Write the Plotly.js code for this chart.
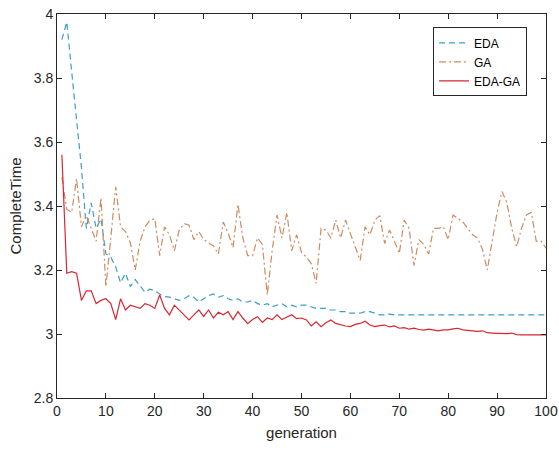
<!DOCTYPE html>
<html>
<head>
<meta charset="utf-8">
<script src="https://cdn.plot.ly/plotly-3.0.1.min.js"></script>
<style>html,body{margin:0;padding:0;background:#fff;}#chart{width:559px;height:450px;}</style>
</head>
<body>
<div id="chart"></div>
<script>
const generations = Array.from({length: 100}, (_, i) => i + 1);

const edaValues = [
  3.92, 3.975, 3.82, 3.67, 3.52, 3.33, 3.41, 3.33, 3.36, 3.25,
  3.24, 3.21, 3.16, 3.19, 3.148, 3.17, 3.15, 3.13, 3.14, 3.135,
  3.125, 3.117, 3.115, 3.11, 3.105, 3.11, 3.12, 3.115, 3.10, 3.11,
  3.12, 3.125, 3.115, 3.12, 3.11, 3.105, 3.11, 3.10, 3.10, 3.105,
  3.095, 3.09, 3.095, 3.085, 3.09, 3.095, 3.085, 3.09, 3.085, 3.09,
  3.09, 3.085, 3.08, 3.08, 3.08, 3.075, 3.075, 3.07, 3.07, 3.065,
  3.065, 3.065, 3.07, 3.07, 3.065, 3.06, 3.06, 3.062, 3.06, 3.06,
  3.06, 3.06, 3.06, 3.06, 3.06, 3.06, 3.06, 3.06, 3.06, 3.06,
  3.06, 3.06, 3.06, 3.06, 3.06, 3.06, 3.06, 3.06, 3.06, 3.06,
  3.06, 3.06, 3.06, 3.06, 3.06, 3.06, 3.06, 3.06, 3.06, 3.06
];

const gaValues = [
  3.49, 3.39, 3.38, 3.486, 3.335, 3.37, 3.33, 3.29, 3.425, 3.148,
  3.30, 3.46, 3.335, 3.32, 3.285, 3.20, 3.29, 3.335, 3.355, 3.36,
  3.245, 3.335, 3.31, 3.26, 3.325, 3.345, 3.34, 3.295, 3.32, 3.295,
  3.285, 3.275, 3.25, 3.35, 3.315, 3.27, 3.405, 3.30, 3.245, 3.245,
  3.30, 3.28, 3.122, 3.26, 3.372, 3.30, 3.38, 3.26, 3.31, 3.255,
  3.24, 3.22, 3.158, 3.33, 3.325, 3.30, 3.356, 3.30, 3.356, 3.315,
  3.27, 3.23, 3.335, 3.31, 3.356, 3.37, 3.283, 3.325, 3.29, 3.252,
  3.356, 3.33, 3.214, 3.295, 3.28, 3.25, 3.33, 3.33, 3.335, 3.295,
  3.372, 3.36, 3.35, 3.33, 3.31, 3.30, 3.265, 3.20, 3.29, 3.38,
  3.445, 3.41, 3.33, 3.273, 3.33, 3.372, 3.38, 3.29, 3.29, 3.268
];

const edaGaValues = [
  3.56, 3.19, 3.195, 3.19, 3.105, 3.135, 3.135, 3.095, 3.105, 3.11,
  3.095, 3.045, 3.11, 3.075, 3.09, 3.085, 3.08, 3.095, 3.09, 3.08,
  3.122, 3.08, 3.06, 3.09, 3.075, 3.06, 3.044, 3.06, 3.075, 3.055,
  3.075, 3.05, 3.068, 3.06, 3.07, 3.045, 3.07, 3.05, 3.032, 3.045,
  3.054, 3.036, 3.05, 3.045, 3.06, 3.045, 3.052, 3.06, 3.048, 3.05,
  3.044, 3.025, 3.038, 3.023, 3.035, 3.044, 3.033, 3.028, 3.025, 3.023,
  3.03, 3.033, 3.04, 3.028, 3.023, 3.026, 3.028, 3.022, 3.025, 3.018,
  3.02, 3.015, 3.018, 3.014, 3.012, 3.015, 3.012, 3.01, 3.013, 3.013,
  3.016, 3.018, 3.013, 3.012, 3.01, 3.008, 3.01, 3.004, 3.003, 3.002,
  3.003, 3.001, 3.003, 2.998, 2.997, 2.997, 2.997, 2.997, 2.997, 2.997
];

const seriesNames = ['EDA', 'GA', 'EDA-GA'];
const xTickVals = [0, 10, 20, 30, 40, 50, 60, 70, 80, 90, 100];
const yTickVals = [2.8, 3, 3.2, 3.4, 3.6, 3.8, 4];

const axisColor = '#262626';
const fontFamily = '"Liberation Sans", Arial, sans-serif';

const traces = [
  {x: generations, y: edaValues, name: seriesNames[0], mode: 'lines',
   line: {color: '#3d9dc6', width: 1.2, dash: '6px,4px'}},
  {x: generations, y: gaValues, name: seriesNames[1], mode: 'lines',
   line: {color: '#cf8a5e', width: 1.2, dash: '7px,3px,2px,3px'}},
  {x: generations, y: edaGaValues, name: seriesNames[2], mode: 'lines',
   line: {color: '#d8262f', width: 1.2}}
];

const axisCommon = {
  showline: true, linecolor: axisColor, linewidth: 1, mirror: 'ticks',
  ticks: 'inside', ticklen: 5, tickcolor: axisColor, tickwidth: 1,
  showgrid: false, zeroline: false,
  tickfont: {family: fontFamily, size: 14, color: axisColor}
};

const layout = {
  width: 559, height: 450,
  margin: {l: 57, r: 13, t: 14, b: 52},
  paper_bgcolor: '#fff', plot_bgcolor: '#fff',
  showlegend: true,
  legend: {
    x: 0.769, y: 0.965, xanchor: 'left', yanchor: 'top',
    bgcolor: '#fff', bordercolor: axisColor, borderwidth: 1,
    font: {family: fontFamily, size: 12, color: '#000'},
    tracegroupgap: 0
  },
  xaxis: Object.assign({}, axisCommon, {
    range: [0, 100], tickvals: xTickVals,
    title: {text: 'generation', font: {family: fontFamily, size: 15, color: axisColor}, standoff: 9}
  }),
  yaxis: Object.assign({}, axisCommon, {
    range: [2.8, 4], tickvals: yTickVals,
    title: {text: 'CompleteTime', font: {family: fontFamily, size: 15, color: axisColor}, standoff: 8}
  })
};

Plotly.newPlot('chart', traces, layout, {staticPlot: true, displayModeBar: false});
</script>
</body>
</html>
